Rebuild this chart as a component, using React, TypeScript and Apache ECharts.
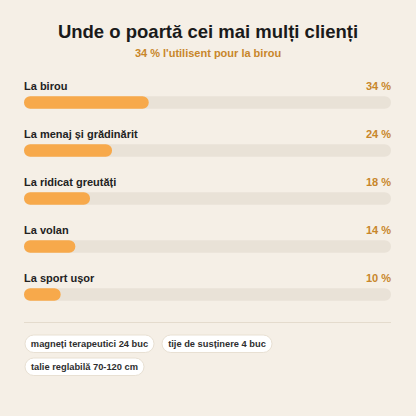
import React, { useEffect, useRef } from "react";
import * as echarts from "echarts";

const titleText = "Unde o poartă cei mai mulți clienți";
const subtitleText = "34 % l'utilisent pour la birou";
const categories = ["La birou", "La menaj și grădinărit", "La ridicat greutăți", "La volan", "La sport ușor"];
const values = [34, 24, 18, 14, 10];
const trackValues = [100, 100, 100, 100, 100];
const tags = ["magneți terapeutici 24 buc", "tije de susținere 4 buc", "talie reglabilă 70-120 cm"];

const FONT = "'Liberation Sans', Arial, Helvetica, sans-serif";
const TAG_FONT_SIZE = 9.3;

function measure(text: string, font: string): number {
  const c = document.createElement("canvas");
  const ctx = c.getContext("2d");
  if (!ctx) return text.length * 5;
  ctx.font = font;
  return ctx.measureText(text).width;
}

export default function App() {
  const ref = useRef<HTMLDivElement>(null);
  useEffect(() => {
    if (!ref.current) return;
    const chart = echarts.init(ref.current, null, { renderer: "svg" });

    const left = 25;
    const right = 391;
    const padX = 6;
    const gap = 8;
    const pillH = 17.5;
    let x = left;
    let y = 335;
    const pillEls: any[] = [];
    tags.forEach((t) => {
      const w = Math.round(measure(t, `bold ${TAG_FONT_SIZE}px 'Liberation Sans', Arial`) + padX * 2);
      if (x + w > right && x > left) {
        x = left;
        y += pillH + 5.5;
      }
      pillEls.push({
        type: "rect",
        shape: { x: x, y: y, width: w, height: pillH, r: pillH / 2 },
        style: { fill: "#ffffff", stroke: "#e8e0d3", lineWidth: 1 },
      });
      pillEls.push({
        type: "text",
        style: {
          x: x + w / 2,
          y: y + pillH / 2 + 0.5,
          text: t,
          fill: "#2e2e2e",
          font: `bold ${TAG_FONT_SIZE}px ${FONT}`,
          align: "center",
          verticalAlign: "middle",
        },
      });
      x += w + gap;
    });

    chart.setOption({
      animation: false,
      backgroundColor: "#f5efe6",
      title: {
        text: titleText,
        subtext: subtitleText,
        left: "center",
        top: 17,
        itemGap: 6.5,
        textStyle: { fontFamily: FONT, fontSize: 18.5, fontWeight: "bold", color: "#1a1a1a" },
        subtextStyle: { fontFamily: FONT, fontSize: 11, fontWeight: "bold", color: "#c8862a" },
      },
      grid: { left: 24, right: 25, top: 78.5, height: 240 },
      xAxis: { type: "value", min: 0, max: 100, show: false },
      yAxis: {
        type: "category",
        data: categories,
        inverse: true,
        show: false,
      },
      series: [
        {
          type: "bar",
          data: trackValues,
          barWidth: 12.5,
          barGap: "-100%",
          silent: true,
          itemStyle: { color: "#e9e2d7", borderRadius: 6.25 },
          label: {
            show: true,
            position: ["100%", -10],
            align: "right",
            verticalAlign: "middle",
            formatter: (p: any) => `${values[p.dataIndex]} %`,
            fontFamily: FONT,
            fontSize: 11,
            fontWeight: "bold",
            color: "#c8862a",
          },
          z: 1,
        },
        {
          type: "bar",
          data: values,
          barWidth: 12.5,
          barGap: "-100%",
          itemStyle: { color: "#f7a94b", borderRadius: 6.25 },
          label: {
            show: true,
            position: [0, -10],
            align: "left",
            verticalAlign: "middle",
            formatter: "{b}",
            fontFamily: FONT,
            fontSize: 11,
            fontWeight: "bold",
            color: "#222222",
          },
          z: 2,
        },
      ],
      graphic: [
        {
          type: "line",
          shape: { x1: 24, y1: 322.5, x2: 391, y2: 322.5 },
          style: { stroke: "#e4dbcd", lineWidth: 1 },
        },
        ...pillEls,
      ],
    });
    return () => chart.dispose();
  }, []);
  return <div ref={ref} style={{ width: 416, height: 416, position: "absolute", left: 0, top: 0 }} />;
}
